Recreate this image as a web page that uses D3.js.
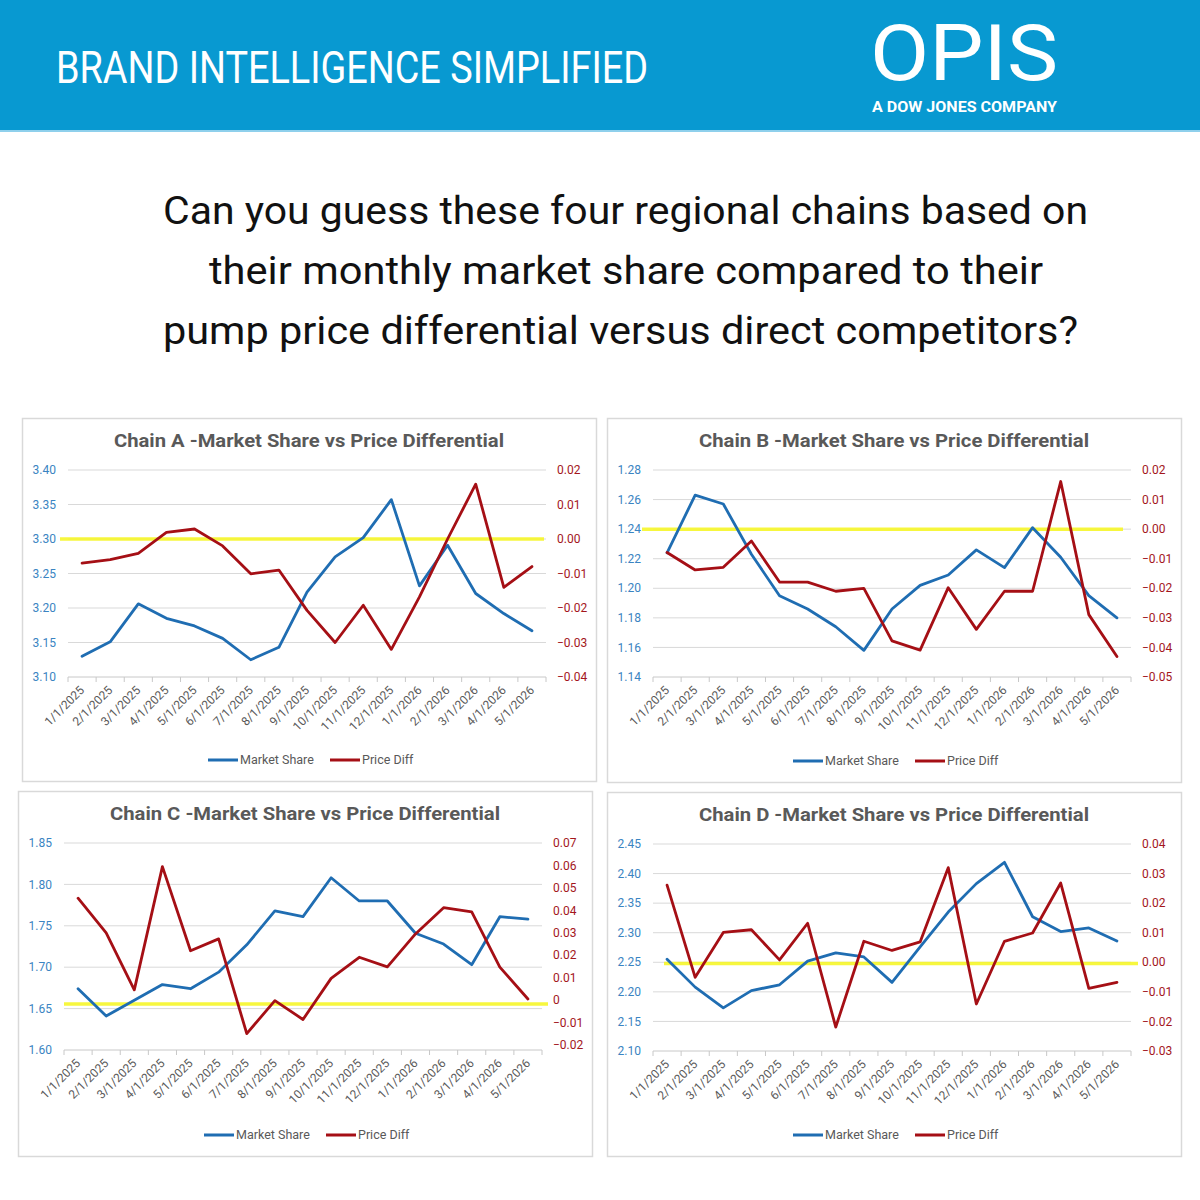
<!DOCTYPE html>
<html>
<head>
<meta charset="utf-8">
<script src="https://cdn.jsdelivr.net/npm/d3@7"></script>
<style>
  body { margin: 0; background: #fff; }
</style>
</head>
<body>
<div class="interactive-wrapper"></div>
<script>
// months shared by all four charts
const months = ["1/1/2025", "2/1/2025", "3/1/2025", "4/1/2025", "5/1/2025", "6/1/2025",
  "7/1/2025", "8/1/2025", "9/1/2025", "10/1/2025", "11/1/2025", "12/1/2025",
  "1/1/2026", "2/1/2026", "3/1/2026", "4/1/2026", "5/1/2026"]

const chainAShare = [3.130, 3.151, 3.206, 3.185, 3.174, 3.156, 3.125, 3.143, 3.223, 3.274, 3.302, 3.357, 3.232, 3.291, 3.221, 3.192, 3.167]
const chainAPrice = [-0.0070, -0.0060, -0.0042, 0.0019, 0.0029, -0.0020, -0.0101, -0.0090, -0.0207, -0.0300, -0.0192, -0.0320, -0.0168, 0.0000, 0.0159, -0.0140, -0.0080]

const chainBShare = [1.224, 1.263, 1.257, 1.223, 1.195, 1.186, 1.174, 1.158, 1.186, 1.202, 1.209, 1.226, 1.214, 1.241, 1.221, 1.195, 1.180]
const chainBPrice = [-0.0079, -0.0138, -0.0129, -0.0040, -0.0179, -0.0179, -0.0210, -0.0200, -0.0378, -0.0409, -0.0198, -0.0339, -0.0210, -0.0210, 0.0161, -0.0289, -0.0431]

const chainCShare = [1.674, 1.641, 1.660, 1.679, 1.674, 1.694, 1.727, 1.768, 1.761, 1.808, 1.780, 1.780, 1.741, 1.728, 1.703, 1.761, 1.758]
const chainCPrice = [0.0454, 0.0300, 0.0046, 0.0595, 0.0220, 0.0273, -0.0149, -0.0002, -0.0086, 0.0097, 0.0191, 0.0148, 0.0295, 0.0412, 0.0393, 0.0147, 0.0005]

const chainDShare = [2.255, 2.208, 2.173, 2.202, 2.212, 2.252, 2.266, 2.259, 2.216, 2.276, 2.335, 2.383, 2.419, 2.327, 2.302, 2.308, 2.286]
const chainDPrice = [0.0261, -0.0051, 0.0101, 0.0110, 0.0008, 0.0132, -0.0219, 0.0071, 0.0040, 0.0069, 0.0320, -0.0141, 0.0071, 0.0099, 0.0268, -0.0088, -0.0068]

// axis ticks
const shareTicksA = [3.10, 3.15, 3.20, 3.25, 3.30, 3.35, 3.40]
const priceTicksA = [-0.04, -0.03, -0.02, -0.01, 0.00, 0.01, 0.02]
const shareTicksB = [1.14, 1.16, 1.18, 1.20, 1.22, 1.24, 1.26, 1.28]
const priceTicksB = [-0.05, -0.04, -0.03, -0.02, -0.01, 0.00, 0.01, 0.02]
const shareTicksC = [1.60, 1.65, 1.70, 1.75, 1.80, 1.85]
const priceTicksC = [-0.02, -0.01, 0, 0.01, 0.02, 0.03, 0.04, 0.05, 0.06, 0.07]
const shareTicksD = [2.10, 2.15, 2.20, 2.25, 2.30, 2.35, 2.40, 2.45]
const priceTicksD = [-0.03, -0.02, -0.01, 0.00, 0.01, 0.02, 0.03, 0.04]

// level of the yellow highlight line, on the price diff axis
const zeroLevels = [0, 0, -0.0017, -0.0004]

const questionLines = [
  "Can you guess these four regional chains based on",
  "their monthly market share compared to their",
  "pump price differential versus direct competitors?"
]

const blue = "#1f6db2",
    red = "#a50f15",
    grey = "#595959",
    grid = "#d9d9d9";

let svg = d3.select(".interactive-wrapper").append("svg")
    .attr("width", 1200).attr("height", 1200)
    .style("font-family", "Roboto, 'Open Sans', sans-serif");

svg.append("rect").attr("width", 1200).attr("height", 1200).attr("fill", "#fff");

// header band
svg.append("rect").attr("width", 1200).attr("height", 131).attr("fill", "#0899d1");
svg.append("rect").attr("y", 130).attr("width", 1200).attr("height", 2).attr("fill", "#8fd0ec");

svg.append("text")
    .attr("x", 56).attr("y", 83)
    .attr("font-size", 44)
    .attr("fill", "#fff")
    .attr("textLength", 592).attr("lengthAdjust", "spacingAndGlyphs")
    .text("BRAND INTELLIGENCE SIMPLIFIED");

svg.append("text")
    .attr("x", 870).attr("y", 80)
    .attr("font-size", 78).attr("font-weight", 400)
    .attr("fill", "#fff")
    .attr("textLength", 188).attr("lengthAdjust", "spacingAndGlyphs")
    .text("OPIS");

svg.append("text")
    .attr("x", 872).attr("y", 112)
    .attr("font-size", 14.5).attr("font-weight", 700)
    .attr("fill", "#fff")
    .attr("textLength", 185).attr("lengthAdjust", "spacingAndGlyphs")
    .text("A DOW JONES COMPANY");

// question
let qPos = [{x: 625.5, w: 925}, {x: 626, w: 834}, {x: 620.5, w: 915}]
svg.selectAll(".question")
    .data(questionLines)
    .enter().append("text")
    .attr("class", "question")
    .attr("x", (d, i) => qPos[i].x)
    .attr("y", (d, i) => 224 + i * 60)
    .attr("text-anchor", "middle")
    .attr("font-size", 38)
    .attr("fill", "#111")
    .attr("textLength", (d, i) => qPos[i].w).attr("lengthAdjust", "spacingAndGlyphs")
    .text(d => d);

// panel layout
let panels = [
  {x: 22, y: 418, h: 363, name: "Chain A", share: chainAShare, price: chainAPrice,
    shareDomain: [3.10, 3.40], shareTicks: shareTicksA, priceDomain: [-0.04, 0.02], priceTicks: priceTicksA,
    fmt: d3.format(".2f"), yl: [38, 522]},
  {x: 607, y: 418, h: 364, name: "Chain B", share: chainBShare, price: chainBPrice,
    shareDomain: [1.14, 1.28], shareTicks: shareTicksB, priceDomain: [-0.05, 0.02], priceTicks: priceTicksB,
    fmt: d3.format(".2f"), yl: [35, 516]},
  {x: 18, y: 791, h: 365, name: "Chain C", share: chainCShare, price: chainCPrice,
    shareDomain: [1.60, 1.85], shareTicks: shareTicksC, priceDomain: [-0.0222, 0.07], priceTicks: priceTicksC,
    fmt: d => d === 0 ? "0" : d3.format(".2f")(d), yl: [46, 530]},
  {x: 607, y: 792, h: 364, name: "Chain D", share: chainDShare, price: chainDPrice,
    shareDomain: [2.10, 2.45], shareTicks: shareTicksD, priceDomain: [-0.03, 0.04], priceTicks: priceTicksD,
    fmt: d3.format(".2f"), yl: [57, 531]}
]

panels.forEach((p, i) => drawChart(p, zeroLevels[i]));

function drawChart(p, zero) {

  let w = 574,
      plotL = 46, plotR = 524, plotT = 52, plotB = 259;

  let g = svg.append("g").attr("transform", `translate(${p.x},${p.y})`);

  g.append("rect")
      .attr("x", 0.5).attr("y", 0.5)
      .attr("width", w).attr("height", p.h)
      .attr("fill", "#fff").attr("stroke", grid).attr("stroke-width", 1.5);

  g.append("text")
      .attr("x", w / 2 - 195).attr("y", 28.5)
      .attr("font-size", 18).attr("font-weight", 700)
      .attr("fill", grey)
      .attr("textLength", 390).attr("lengthAdjust", "spacingAndGlyphs")
      .text(p.name + " -Market Share vs Price Differential");

  let x = d3.scaleBand().domain(months).range([plotL, plotR]);
  let cx = d => x(d) + x.bandwidth() / 2;

  let yL = d3.scaleLinear().domain(p.shareDomain).range([plotB, plotT]);
  let yR = d3.scaleLinear().domain(p.priceDomain).range([plotB, plotT]);

  // gridlines
  g.selectAll(".grid")
      .data(p.shareTicks.slice(1))
      .enter().append("line")
      .attr("x1", plotL).attr("x2", plotR)
      .attr("y1", d => yL(d)).attr("y2", d => yL(d))
      .attr("stroke", grid).attr("stroke-width", 1);

  // bottom axis with ticks at category boundaries
  g.append("line")
      .attr("x1", plotL).attr("x2", plotR)
      .attr("y1", plotB).attr("y2", plotB)
      .attr("stroke", "#c8c8c8").attr("stroke-width", 1);

  g.selectAll(".xtick")
      .data(months.map(m => x(m)).concat([plotR]))
      .enter().append("line")
      .attr("x1", d => d).attr("x2", d => d)
      .attr("y1", plotB).attr("y2", plotB + 5)
      .attr("stroke", "#c8c8c8");

  g.selectAll(".xlabel")
      .data(months)
      .enter().append("text")
      .attr("text-anchor", "end")
      .attr("transform", d => `translate(${cx(d) + 3},${plotB + 14}) rotate(-45)`)
      .attr("font-size", 12)
      .attr("fill", grey)
      .text(d => d);

  // left axis labels
  g.selectAll(".ylabel")
      .data(p.shareTicks)
      .enter().append("text")
      .attr("x", plotL - 12).attr("y", d => yL(d))
      .attr("dy", "0.35em")
      .attr("text-anchor", "end")
      .attr("font-size", 12)
      .attr("fill", "#3a84c2")
      .text(d => d3.format(".2f")(d));

  // right axis labels
  g.selectAll(".rlabel")
      .data(p.priceTicks)
      .enter().append("text")
      .attr("x", plotR + 11).attr("y", d => yR(d))
      .attr("dy", "0.35em")
      .attr("font-size", 12)
      .attr("fill", "#a3161c")
      .text(d => p.fmt(d));

  // yellow highlight
  g.append("line")
      .attr("x1", p.yl[0]).attr("x2", p.yl[1])
      .attr("y1", yR(zero)).attr("y2", yR(zero))
      .attr("stroke", "#f7f72a").attr("stroke-width", 3.5).attr("opacity", 0.9);

  let shareLine = d3.line().x((d, i) => cx(months[i])).y(d => yL(d));
  let priceLine = d3.line().x((d, i) => cx(months[i])).y(d => yR(d));

  g.append("path")
      .attr("d", shareLine(p.share))
      .attr("fill", "none").attr("stroke", blue)
      .attr("stroke-width", 2.8).attr("stroke-linejoin", "round").attr("stroke-linecap", "round");

  g.append("path")
      .attr("d", priceLine(p.price))
      .attr("fill", "none").attr("stroke", red)
      .attr("stroke-width", 2.8).attr("stroke-linejoin", "round").attr("stroke-linecap", "round");

  // legend
  let legend = [{label: "Market Share", color: blue, x: 186}, {label: "Price Diff", color: red, x: 308}]
  let ly = p.h - 21;

  legend.forEach(l => {
    g.append("line")
        .attr("x1", l.x).attr("x2", l.x + 30)
        .attr("y1", ly).attr("y2", ly)
        .attr("stroke", l.color).attr("stroke-width", 3);
    g.append("text")
        .attr("x", l.x + 32).attr("y", ly)
        .attr("dy", "0.35em")
        .attr("font-size", 12.5)
        .attr("fill", grey)
        .text(l.label);
  })
}
</script>
</body>
</html>
